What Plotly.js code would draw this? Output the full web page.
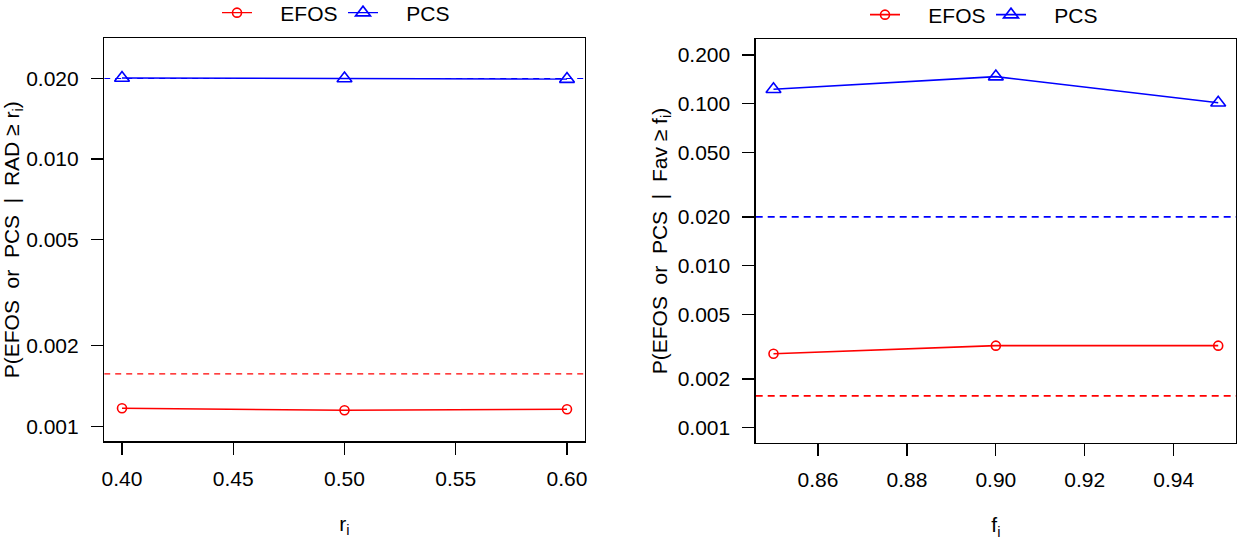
<!DOCTYPE html>
<html>
<head>
<meta charset="utf-8">
<script src="https://cdn.plot.ly/plotly-3.0.1.min.js"></script>
<style>
  html, body { margin: 0; padding: 0; background: #ffffff; }
  #chart { width: 1240px; height: 543px; }
</style>
</head>
<body>
<div id="chart"></div>
<script>
// ---- data ----
const rValues = [0.40, 0.50, 0.60];
const efosByR = [0.001168, 0.001148, 0.001158];
const pcsByR = [0.0201, 0.0200, 0.0199];

const fValues = [0.85, 0.90, 0.95];
const efosByF = [0.00286, 0.00321, 0.00321];
const pcsByF = [0.1227, 0.147, 0.1014];

const efosThreshold = [0.00157];
const pcsThreshold = [0.02];

const seriesNames = ['EFOS', 'PCS'];

const leftXTicks = [0.40, 0.45, 0.50, 0.55, 0.60];
const leftYTicks = [0.001, 0.002, 0.005, 0.010, 0.020];
const rightXTicks = [0.86, 0.88, 0.90, 0.92, 0.94];
const rightYTicks = [0.001, 0.002, 0.005, 0.010, 0.020, 0.050, 0.100, 0.200];

// ---- styling ----
const RED = '#ff0000';
const BLUE = '#0000ff';
const FONT = 'Liberation Sans, Arial, Helvetica, sans-serif';
const FS = 21;

const leftXRange = [0.392, 0.608];
const rightXRange = [0.846, 0.954];
const leftYRange = [-3.0561, -1.5485];
const rightYRange = [-3.0926, -0.6025];

const nb = '\u00a0';
const pad = nb + nb + nb + nb;

const traces = [
  // left panel
  { x: rValues, y: efosByR, type: 'scatter', mode: 'lines+markers', name: pad + seriesNames[0],
    xaxis: 'x', yaxis: 'y', legend: 'legend',
    line: { color: RED, width: 1.4 },
    marker: { symbol: 'circle-open', size: 9, color: RED, line: { width: 1.6, color: RED } } },
  { x: rValues, y: pcsByR, type: 'scatter', mode: 'lines+markers', name: pad + seriesNames[1],
    xaxis: 'x', yaxis: 'y', legend: 'legend',
    line: { color: BLUE, width: 1.4 },
    marker: { symbol: 'triangle-up-open', size: 13, color: BLUE, line: { width: 1.6, color: BLUE } } },
  { x: leftXRange, y: [efosThreshold[0], efosThreshold[0]], type: 'scatter', mode: 'lines',
    xaxis: 'x', yaxis: 'y', showlegend: false, hoverinfo: 'skip',
    line: { color: RED, width: 1.2, dash: '6px,5px' } },
  { x: leftXRange, y: [pcsThreshold[0], pcsThreshold[0]], type: 'scatter', mode: 'lines',
    xaxis: 'x', yaxis: 'y', showlegend: false, hoverinfo: 'skip',
    line: { color: BLUE, width: 1.2, dash: '6px,5px' } },
  // right panel
  { x: fValues, y: efosByF, type: 'scatter', mode: 'lines+markers', name: pad + seriesNames[0],
    xaxis: 'x2', yaxis: 'y2', legend: 'legend2',
    line: { color: RED, width: 1.6 },
    marker: { symbol: 'circle-open', size: 9, color: RED, line: { width: 1.6, color: RED } } },
  { x: fValues, y: pcsByF, type: 'scatter', mode: 'lines+markers', name: pad + seriesNames[1],
    xaxis: 'x2', yaxis: 'y2', legend: 'legend2',
    line: { color: BLUE, width: 1.6 },
    marker: { symbol: 'triangle-up-open', size: 13, color: BLUE, line: { width: 1.6, color: BLUE } } },
  { x: rightXRange, y: [efosThreshold[0], efosThreshold[0]], type: 'scatter', mode: 'lines',
    xaxis: 'x2', yaxis: 'y2', showlegend: false, hoverinfo: 'skip',
    line: { color: RED, width: 1.8, dash: '7px,5px' } },
  { x: rightXRange, y: [pcsThreshold[0], pcsThreshold[0]], type: 'scatter', mode: 'lines',
    xaxis: 'x2', yaxis: 'y2', showlegend: false, hoverinfo: 'skip',
    line: { color: BLUE, width: 1.8, dash: '7px,5px' } }
];

function xAxis(range, ticks, domain, titleText) {
  return {
    domain: domain, range: range, autorange: false,
    tickvals: ticks, tickformat: '.2f',
    showgrid: false, zeroline: false,
    showline: true, mirror: true, linecolor: '#000', linewidth: 1.3,
    ticks: 'outside', ticklen: 12, tickwidth: 1.3, tickcolor: '#000',
    ticklabelstandoff: 6,
    tickfont: { family: FONT, size: FS, color: '#000' },
    title: { text: titleText, font: { family: FONT, size: FS, color: '#000' }, standoff: 27 },
    automargin: false
  };
}
function yAxis(range, ticks, domain, titleText, anchor) {
  return {
    type: 'log', domain: domain, range: range, autorange: false, anchor: anchor,
    tickvals: ticks, tickformat: '.3f',
    showgrid: false, zeroline: false,
    showline: true, mirror: true, linecolor: '#000', linewidth: 1.3,
    ticks: 'outside', ticklen: 12, tickwidth: 1.3, tickcolor: '#000',
    ticklabelstandoff: 8,
    tickfont: { family: FONT, size: FS, color: '#000' },
    title: { text: titleText, font: { family: FONT, size: FS, color: '#000' }, standoff: 4 },
    automargin: false
  };
}

const s2 = nb + nb;
const leftYTitle = 'P(EFOS' + s2 + 'or' + s2 + 'PCS' + s2 + '|' + s2 + 'RAD ≥ r<sub>i</sub>)';
const rightYTitle = 'P(EFOS' + s2 + 'or' + s2 + 'PCS' + s2 + '|' + s2 + 'Fav ≥ f<sub>i</sub>)';

const legendCommon = {
  orientation: 'h', xanchor: 'left', yanchor: 'middle',
  font: { family: FONT, size: FS, color: '#000' },
  bgcolor: 'rgba(0,0,0,0)', borderwidth: 0,
  entrywidth: 81, entrywidthmode: 'pixels', itemwidth: 30, itemclick: false, itemdoubleclick: false
};

const layout = {
  width: 1240, height: 543,
  margin: { l: 0, r: 0, t: 0, b: 0, pad: 0, autoexpand: false },
  paper_bgcolor: '#ffffff', plot_bgcolor: '#ffffff',
  font: { family: FONT, size: FS, color: '#000' },
  showlegend: true,
  xaxis: xAxis(leftXRange, leftXTicks, [104.2 / 1240, 584.8 / 1240], 'r<sub>i</sub>'),
  yaxis: yAxis(leftYRange, leftYTicks, [1 - 441.3 / 543, 1 - 38.3 / 543], leftYTitle, 'x'),
  xaxis2: Object.assign(xAxis(rightXRange, rightXTicks, [755.7 / 1240, 1236 / 1240], 'f<sub>i</sub>'), { anchor: 'y2' }),
  yaxis2: yAxis(rightYRange, rightYTicks, [1 - 442.7 / 543, 1 - 39.3 / 543], rightYTitle, 'x2'),
  legend: Object.assign({}, legendCommon, { x: 217 / 1240, y: 1 - 13 / 543 }),
  legend2: Object.assign({}, legendCommon, { x: 865 / 1240, y: 1 - 15 / 543 })
};

Plotly.newPlot('chart', traces, layout, { displayModeBar: false, staticPlot: true });
</script>
</body>
</html>
